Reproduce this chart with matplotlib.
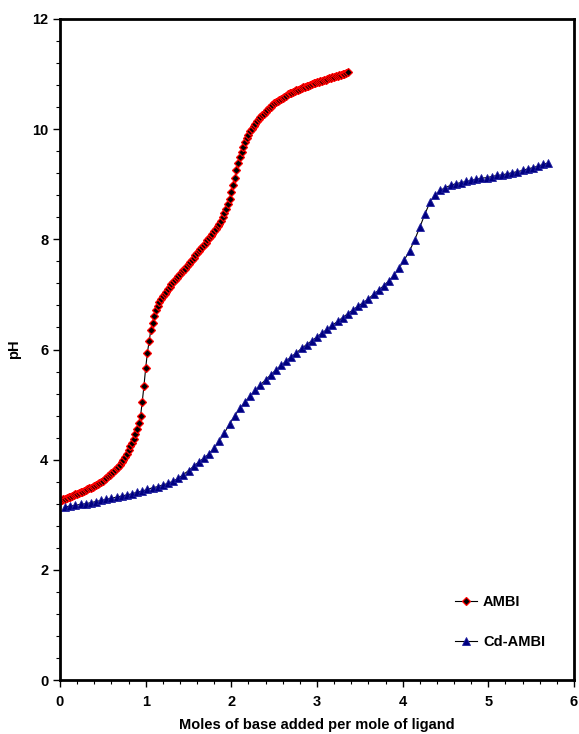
import numpy as np
import matplotlib
matplotlib.use("Agg")
import matplotlib.pyplot as plt
from matplotlib.ticker import MultipleLocator

plt.rcParams['font.family'] = ['Liberation Sans', 'DejaVu Sans']
plt.rcParams['font.weight'] = 'bold'

# AMBI: x step 0.02 from 0 to 3.36
ambi_x = np.round(np.arange(0, 169) * 0.02, 2)
ambi_ph = [
    3.25, 3.27, 3.28, 3.29, 3.31, 3.32, 3.33, 3.34, 3.36, 3.37,
    3.38, 3.40, 3.41, 3.42, 3.43, 3.45, 3.46, 3.48, 3.49, 3.51,
    3.52, 3.54, 3.56, 3.58, 3.60, 3.62, 3.65, 3.67, 3.70, 3.72,
    3.75, 3.78, 3.81, 3.84, 3.87, 3.91, 3.95, 4.00, 4.05, 4.11,
    4.17, 4.24, 4.31, 4.38, 4.46, 4.55, 4.66, 4.79, 5.05, 5.34,
    5.66, 5.94, 6.15, 6.35, 6.49, 6.61, 6.71, 6.79, 6.86, 6.92,
    6.97, 7.01, 7.05, 7.10, 7.14, 7.19, 7.23, 7.26, 7.30, 7.33,
    7.37, 7.40, 7.44, 7.47, 7.51, 7.55, 7.59, 7.63, 7.67, 7.71,
    7.75, 7.79, 7.83, 7.86, 7.90, 7.94, 7.98, 8.02, 8.06, 8.10,
    8.15, 8.19, 8.24, 8.28, 8.34, 8.40, 8.47, 8.55, 8.64, 8.74,
    8.86, 8.98, 9.11, 9.25, 9.38, 9.49, 9.59, 9.68, 9.76, 9.84,
    9.90, 9.96, 10.01, 10.06, 10.10, 10.14, 10.18, 10.22, 10.25, 10.28,
    10.32, 10.35, 10.38, 10.41, 10.44, 10.47, 10.49, 10.51, 10.53, 10.55,
    10.57, 10.59, 10.61, 10.63, 10.65, 10.66, 10.68, 10.69, 10.71, 10.72,
    10.73, 10.75, 10.76, 10.77, 10.78, 10.79, 10.80, 10.82, 10.83, 10.84,
    10.85, 10.86, 10.87, 10.88, 10.89, 10.90, 10.91, 10.92, 10.93, 10.94,
    10.95, 10.96, 10.97, 10.98, 10.99, 11.00, 11.01, 11.02, 11.03,
]

# Cd-AMBI: x step 0.06 from 0.06 to 5.70
cd_x = np.round(np.arange(1, 96) * 0.06, 2)
cd_ph = [
    3.14, 3.16, 3.17, 3.19, 3.20, 3.22, 3.24, 3.26, 3.28, 3.30,
    3.32, 3.34, 3.36, 3.38, 3.41, 3.43, 3.46, 3.49, 3.51, 3.54,
    3.57, 3.61, 3.66, 3.73, 3.80, 3.88, 3.96, 4.03, 4.11, 4.21,
    4.34, 4.49, 4.65, 4.80, 4.93, 5.05, 5.16, 5.26, 5.36, 5.45,
    5.54, 5.63, 5.71, 5.79, 5.87, 5.94, 6.02, 6.09, 6.16, 6.23,
    6.30, 6.37, 6.44, 6.51, 6.58, 6.65, 6.72, 6.79, 6.85, 6.92,
    7.00, 7.08, 7.16, 7.25, 7.35, 7.48, 7.63, 7.79, 7.99, 8.22,
    8.46, 8.68, 8.81, 8.89, 8.94, 8.98, 9.01, 9.03, 9.05, 9.07,
    9.09, 9.11, 9.12, 9.14, 9.16, 9.17, 9.19, 9.21, 9.23, 9.25,
    9.28, 9.30, 9.33, 9.36, 9.39,
]

x_label = "Moles of base added per mole of ligand"
y_label = "pH"
series_names = ["AMBI", "Cd-AMBI"]

fig = plt.figure(figsize=(5.79, 7.34), dpi=100)
ax = fig.add_axes([60/579, 1 - 680/734, 514/579, 661/734])

ax.plot(ambi_x, ambi_ph, color='black', lw=0.8, marker='D', ms=3.6,
        mfc='black', mec='red', mew=0.9, label=series_names[0])
ax.plot(cd_x, cd_ph, color='black', lw=0.8, marker='^', ms=5.5,
        mfc='#000080', mec='#2020a0', mew=0.6, label=series_names[1])

ax.set_xlim(0, 6)
ax.set_ylim(0, 12)
ax.xaxis.set_major_locator(MultipleLocator(1))
ax.xaxis.set_minor_locator(MultipleLocator(0.2))
ax.yaxis.set_major_locator(MultipleLocator(2))
ax.yaxis.set_minor_locator(MultipleLocator(0.4))
ax.tick_params(which='major', direction='out', length=5, width=1, labelsize=10.5)
ax.tick_params(which='minor', direction='out', length=3, width=0.8)
ax.tick_params(axis='x', pad=6)
for lab in ax.get_xticklabels() + ax.get_yticklabels():
    lab.set_fontweight('bold')
for s in ax.spines.values():
    s.set_linewidth(2)

ax.set_xlabel(x_label, fontsize=10.5, fontweight='bold', labelpad=6)
ax.set_ylabel(y_label, fontsize=10.5, fontweight='bold', labelpad=8)

leg = ax.legend(loc='upper left', bbox_to_anchor=(0.755, 0.14), frameon=False,
                fontsize=10.5, labelspacing=1.8, handlelength=1.5,
                handletextpad=0.4, borderpad=0)
for t in leg.get_texts():
    t.set_fontweight('bold')

fig.savefig("out.png", dpi=100)
